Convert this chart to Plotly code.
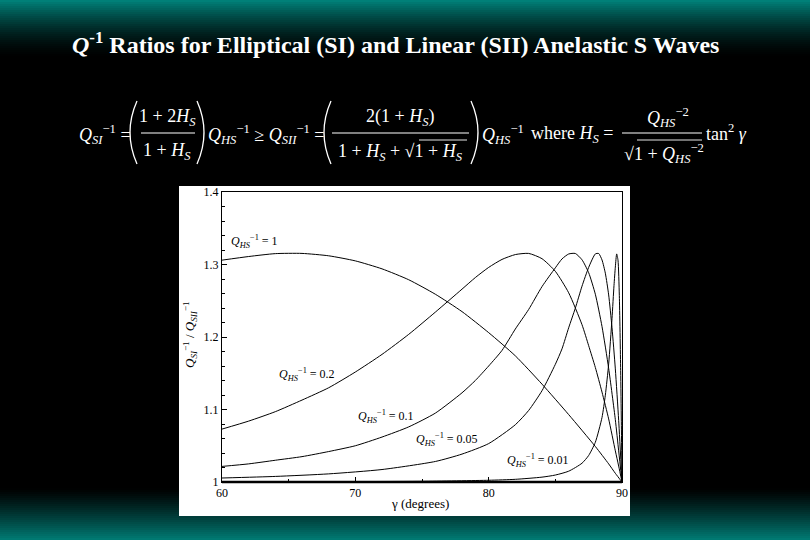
import plotly.graph_objects as go

# ---------------- data ----------------
gamma_q1 = [60, 62, 64, 66, 68, 70, 72, 74, 76, 78, 80, 82, 84, 86, 88, 89, 89.5, 90]
ratio_q1 = [1.306, 1.311, 1.315, 1.3153, 1.312, 1.305, 1.294, 1.279, 1.259, 1.235,
            1.206, 1.174, 1.135, 1.093, 1.049, 1.025, 1.012, 1.0]

gamma_q02 = [60, 62, 64, 66, 68, 70, 72, 74, 76, 78, 79, 80, 81, 82, 83, 84, 85, 86,
             87, 87.5, 88, 88.5, 89, 89.5, 89.75, 90]
ratio_q02 = [1.073, 1.084, 1.097, 1.113, 1.130, 1.1517, 1.176, 1.2036, 1.2343, 1.266,
             1.282, 1.296, 1.307, 1.3137, 1.3153, 1.308, 1.2906, 1.261, 1.217, 1.188,
             1.158, 1.124, 1.087, 1.043, 1.022, 1.0]

gamma_q01 = [60, 62, 64, 66, 68, 70, 72, 74, 76, 78, 79, 80, 81, 82, 83, 84, 85, 85.5,
             86, 86.5, 87, 87.5, 88, 88.5, 89, 89.5, 89.75, 90]
ratio_q01 = [1.0215, 1.025, 1.030, 1.035, 1.042, 1.050, 1.062, 1.076, 1.095, 1.123,
             1.140, 1.160, 1.1815, 1.211, 1.238, 1.2695, 1.2954, 1.3077, 1.3145, 1.3152,
             1.3065, 1.2887, 1.259, 1.2145, 1.1566, 1.086, 1.043, 1.0]

gamma_q005 = [60, 64, 68, 72, 76, 78, 80, 82, 83, 84, 85, 85.5, 86, 86.5, 87, 87.5, 88,
              88.25, 88.5, 88.75, 89, 89.25, 89.5, 89.75, 90]
ratio_q005 = [1.0055, 1.0077, 1.0112, 1.0172, 1.0283, 1.0385, 1.053, 1.079, 1.0987,
              1.1259, 1.1623, 1.1837, 1.2127, 1.2398, 1.2701, 1.296, 1.3146, 1.3152,
              1.3063, 1.288, 1.258, 1.213, 1.156, 1.085, 1.0]

gamma_q001 = [60, 70, 75, 80, 82, 84, 85, 86, 87, 87.5, 88, 88.5, 88.75, 89, 89.25,
              89.4, 89.5, 89.6, 89.7, 89.8, 89.9, 89.95, 90]
ratio_q001 = [1.0002, 1.0006, 1.001, 1.0024, 1.0037, 1.0067, 1.0096, 1.0149, 1.0259,
              1.0366, 1.0548, 1.089, 1.1197, 1.1629, 1.2254, 1.2711, 1.2964, 1.3146,
              1.306, 1.257, 1.154, 1.083, 1.0]

series = [(gamma_q1, ratio_q1), (gamma_q02, ratio_q02), (gamma_q01, ratio_q01),
          (gamma_q005, ratio_q005), (gamma_q001, ratio_q001)]

curve_labels = ["1", "0.2", "0.1", "0.05", "0.01"]
label_gamma = [62.4, 66.4, 72.3, 76.9, 83.7]
label_ratio = [1.332, 1.148, 1.090, 1.058, 1.029]

x_ticks = [60, 70, 80, 90]
y_ticks = [1, 1.1, 1.2, 1.3, 1.4]
y_ticktext = ["1", "1.1", "1.2", "1.3", "1.4"]

title_text = "<i>Q</i><sup>-1</sup> Ratios for Elliptical (SI) and Linear (SII) Anelastic S Waves"

# ---------------- layout geometry (pixels) ----------------
W, H = 810, 540
L, R, T, B = 222, 622, 192, 482
SERIF = "Liberation Serif, Times New Roman, serif"


def X(px):
    return (px - L) / (R - L)


def Y(py):
    return (B - py) / (B - T)


fig = go.Figure()
for g, r in series:
    fig.add_trace(go.Scatter(x=g, y=r, mode="lines",
                             line=dict(color="black", width=1, shape="spline", smoothing=0.6),
                             showlegend=False, hoverinfo="skip"))

shapes = []
# top gradient
n = 30
for i in range(n):
    y0, y1 = i * 2, i * 2 + 2.5
    t = (i + 0.5) / n
    k = (1 - t) ** 1.7
    shapes.append(dict(type="rect", xref="paper", yref="paper", x0=X(-5), x1=X(W + 5),
                       y0=Y(y1), y1=Y(y0), line=dict(width=0),
                       fillcolor=f"rgb(0,{int(132*k)},{int(124*k)})", layer="below"))
# bottom gradient
n = 26
for i in range(n):
    y0 = 488 + i * 2
    t = (i + 0.5) / n
    k = t ** 1.2
    shapes.append(dict(type="rect", xref="paper", yref="paper", x0=X(-5), x1=X(W + 5),
                       y0=Y(y0 + 2.5), y1=Y(y0), line=dict(width=0),
                       fillcolor=f"rgb(0,{int(124*k)},{int(117*k)})", layer="below"))
# white panel
shapes.append(dict(type="rect", xref="paper", yref="paper", x0=X(179), x1=X(630),
                   y0=Y(516), y1=Y(186), line=dict(width=0), fillcolor="white", layer="below"))
# thick bottom axis
shapes.append(dict(type="line", xref="paper", yref="paper", x0=0, x1=1, y0=0, y1=0,
                   line=dict(color="black", width=2.5)))


def paren(x_end, x_ctrl, y_top=101, y_bot=164):
    return dict(type="path", xref="paper", yref="paper",
                path=f"M {X(x_end)},{Y(y_top)} Q {X(x_ctrl)},{Y((y_top+y_bot)/2)} {X(x_end)},{Y(y_bot)}",
                line=dict(color="white", width=1.3))


def hline(x0, x1, y, w=1.1):
    return dict(type="line", xref="paper", yref="paper", x0=X(x0), x1=X(x1), y0=Y(y), y1=Y(y),
                line=dict(color="white", width=w))


shapes += [paren(137, 123), paren(197, 211), paren(331, 317), paren(471, 485),
           hline(141, 195, 133), hline(332, 469, 133), hline(622, 702, 133),
           hline(419, 467, 140, 0.9), hline(637, 702, 140, 0.9)]

annotations = []


def ann(px, py, text, size=18, xa="left", color="white", **kw):
    annotations.append(dict(x=X(px), y=Y(py), xref="paper", yref="paper", text=text,
                            showarrow=False, xanchor=xa, yanchor="middle",
                            font=dict(family=SERIF, size=size, color=color), **kw))


ann(395, 43, f"<b>{title_text}</b>", size=24, xa="center")

Qsub = lambda s, e: f"<i>Q</i><sub><i>{s}</i></sub><sup>{e}</sup>"
Hs = "<i>H</i><sub><i>S</i></sub>"
ann(77, 134, f"{Qsub('SI', '−1')} =")
ann(167, 117, f"1 + 2{Hs}", xa="center")
ann(167, 151, f"1 + {Hs}", xa="center")
ann(206, 134, f"{Qsub('HS', '−1')} ≥ {Qsub('SII', '−1')} =")
ann(400, 117, f"2(1 + {Hs})", xa="center")
ann(400, 152, f"1 + {Hs} + √1 + {Hs}", xa="center")
ann(480, 134, f"{Qsub('HS', '−1')}")
ann(529, 134, f"where {Hs} =")
ann(668, 118, f"{Qsub('HS', '−2')}", xa="center")
ann(664, 153, f"√1 + {Qsub('HS', '−2')}", xa="center")
ann(704, 132, "tan<sup>2</sup> <i>γ</i>")

for lab, g, r in zip(curve_labels, label_gamma, label_ratio):
    annotations.append(dict(x=g, y=r, xref="x", yref="y", showarrow=False,
                            text=f"<i>Q</i><sub><i>HS</i></sub><sup>−1</sup> = {lab}",
                            font=dict(family=SERIF, size=12, color="black")))

ann(420, 503, "γ (degrees)", size=13, xa="center", color="black")
ann(190, 335, "<i>Q</i><sub><i>SI</i></sub><sup>−1</sup> / <i>Q</i><sub><i>SII</i></sub><sup>−1</sup>",
    size=13, xa="center", color="black", textangle=-90)

fig.update_layout(
    width=W, height=H, autosize=False,
    margin=dict(l=L, r=W - R, t=T, b=H - B, pad=0),
    paper_bgcolor="black", plot_bgcolor="white",
    shapes=shapes, annotations=annotations, showlegend=False,
    xaxis=dict(range=[60, 90], tickvals=x_ticks, showgrid=False, zeroline=False,
               showline=True, linecolor="black", linewidth=1, mirror=True,
               ticks="inside", ticklen=5, tickcolor="black", automargin=False,
               tickfont=dict(family=SERIF, size=12, color="black"),
               minor=dict(dtick=5, ticks="inside", ticklen=3, tickcolor="black")),
    yaxis=dict(range=[1, 1.4], tickvals=y_ticks, ticktext=y_ticktext, showgrid=False,
               zeroline=False, showline=True, linecolor="black", linewidth=1, mirror=True,
               ticks="inside", ticklen=5, tickcolor="black", automargin=False,
               tickfont=dict(family=SERIF, size=12, color="black"),
               minor=dict(dtick=0.02, ticks="inside", ticklen=3, tickcolor="black")),
)

fig.write_html("out.html", config={"displayModeBar": False},
               post_script="document.body.style.margin='0';document.body.style.overflow='hidden';")
